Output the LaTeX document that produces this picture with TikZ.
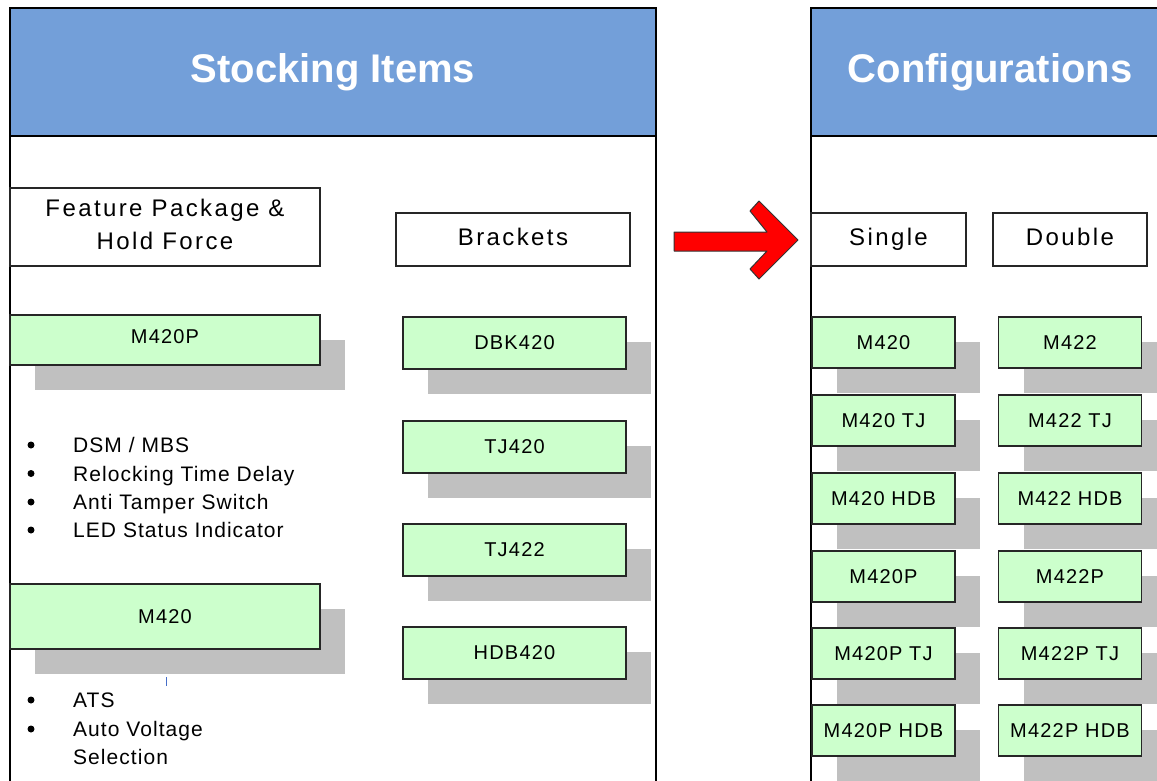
\documentclass[tikz,border=0pt]{standalone}
\usepackage{fontspec}
\setmainfont{Liberation Sans}
\newfontfamily\rsLabFam[LetterSpace=10]{Liberation Sans}
\newfontfamily\rsItemFam[LetterSpace=6]{Liberation Sans}
\newfontfamily\rsBulFam[LetterSpace=5]{Liberation Sans}
\newcommand\rsLabFont{\rsLabFam\fontsize{24}{33}\selectfont}
\newcommand\rsItemFont{\rsItemFam\fontsize{20}{23}\selectfont}
\newcommand\rsBulFont{\rsBulFam\fontsize{21}{25}\selectfont}
\newcommand\rsHeadFont{\bfseries\fontsize{40}{46}\selectfont}
\usetikzlibrary{shadows}
\definecolor{headblue}{RGB}{115,159,217}
\definecolor{itemgreen}{RGB}{204,255,204}
\definecolor{shadowgray}{RGB}{192,192,192}
\definecolor{arrowred}{RGB}{255,0,0}
\definecolor{tickblue}{RGB}{70,110,200}
\tikzset{
  panel/.style={draw=black, line width=1.6pt},
  headbox/.style={draw=black, line width=1.6pt, fill=headblue, text=white, font=\rsHeadFont, inner sep=0pt},
  labelbox/.style={draw=black!85, line width=1.5pt, fill=white, font=\rsLabFont, align=center, inner sep=0pt, text depth=5pt},
  itembox/.style={draw=black!85, line width=1.5pt, fill=itemgreen, font=\rsItemFont, inner sep=0pt,
    drop shadow={shadow xshift=25pt, shadow yshift=-25pt, fill=shadowgray, opacity=1}},
  leftitem/.style={itembox, minimum width=310pt},
  brkitem/.style={itembox, minimum width=223pt, minimum height=52pt},
  cfgitem/.style={itembox, minimum width=143pt, minimum height=51pt},
  bulletdot/.style={circle, fill=black, inner sep=0pt, minimum size=7pt},
  bultext/.style={anchor=base west, font=\rsBulFont, inner sep=0pt},
}
\begin{document}
\begin{tikzpicture}[x=1pt,y=-1pt]
\clip (0,0) rectangle (1157,780);
\fill[white] (0,0) rectangle (1157,780);

% panels
\draw[panel] (10,8) rectangle (656,800);
\draw[panel] (811,8) rectangle (1175,800);
\node[headbox, minimum width=646pt, minimum height=128pt] (lefthead) at (333,72) {Stocking Items};
\node[headbox, minimum width=364pt, minimum height=128pt] (righthead) at (993,72) {\hspace*{-6pt}Configurations};

% column labels
\node[labelbox, minimum width=310pt, minimum height=78pt] (feature) at (165,227) {Feature Package \&\\Hold Force};
\node[labelbox, minimum width=234pt, minimum height=53pt] (brackets) at (513,239.5) {Brackets};
\node[labelbox, minimum width=155pt, minimum height=53pt] (single) at (888.5,239.5) {Single};
\node[labelbox, minimum width=154pt, minimum height=53pt] (double) at (1070,239.5) {Double};

% left column items
\node[leftitem, minimum height=50pt] (m420p) at (165,340) {\raisebox{6pt}{M420P}};
\node[leftitem, minimum height=65pt] (m420) at (165,616.5) {M420};

% bullet list 1
\node[bulletdot] (d1) at (31,445) {};
\node[bulletdot] (d2) at (31,473.5) {};
\node[bulletdot] (d3) at (31,502) {};
\node[bulletdot] (d4) at (31,530) {};
\node[bultext] (t1) at (73,452.5) {DSM / MBS};
\node[bultext] (t2) at (73,481) {Relocking Time Delay};
\node[bultext] (t3) at (73,509.5) {Anti Tamper Switch};
\node[bultext] (t4) at (73,537.5) {LED Status Indicator};

% bullet list 2
\node[bulletdot] (d5) at (31,700) {};
\node[bulletdot] (d6) at (31,729) {};
\node[bultext] (t5) at (73,707.5) {ATS};
\node[bultext] (t6) at (73,736.5) {Auto Voltage};
\node[bultext] (t7) at (73,764.5) {Selection};

% small blue tick
\coordinate (tickA) at (166,677);
\coordinate (tickB) at (166,686);
\draw[tickblue, line width=1pt] (tickA) -- (tickB);

% brackets column
\node[brkitem] (dbk420) at (514.5,343) {DBK420};
\node[brkitem] (tj420) at (514.5,447) {TJ420};
\node[brkitem] (tj422) at (514.5,550) {TJ422};
\node[brkitem] (hdb420) at (514.5,653) {HDB420};

% configurations: single
\node[cfgitem] (s1) at (883.5,342.5) {M420};
\node[cfgitem] (s2) at (883.5,420.5) {M420 TJ};
\node[cfgitem] (s3) at (883.5,498.5) {M420 HDB};
\node[cfgitem] (s4) at (883.5,576.5) {M420P};
\node[cfgitem] (s5) at (883.5,653.5) {M420P TJ};
\node[cfgitem] (s6) at (883.5,730.5) {M420P HDB};
% configurations: double
\node[cfgitem] (q1) at (1070,342.5) {M422};
\node[cfgitem] (q2) at (1070,420.5) {M422 TJ};
\node[cfgitem] (q3) at (1070,498.5) {M422 HDB};
\node[cfgitem] (q4) at (1070,576.5) {M422P};
\node[cfgitem] (q5) at (1070,653.5) {M422P TJ};
\node[cfgitem] (q6) at (1070,730.5) {M422P HDB};

% red block arrow
\filldraw[fill=arrowred, draw=black!80, line width=1pt, line join=round]
  (674,232) -- (767,232) -- (750,211) -- (759,201) -- (798,240) -- (759,279)
  -- (750,269) -- (767,251) -- (674,251) -- cycle;
\end{tikzpicture}
\end{document}
